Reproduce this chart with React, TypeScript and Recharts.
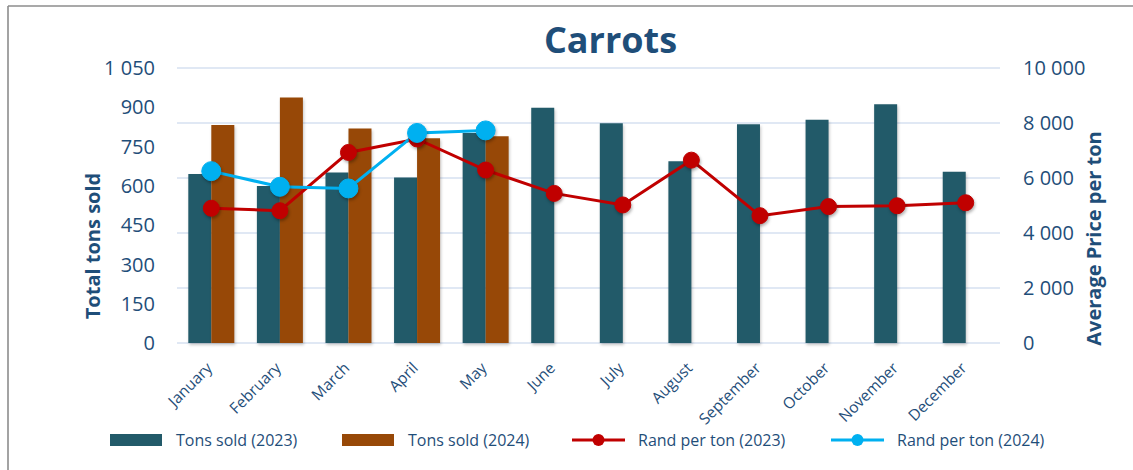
import React from 'react';
import {
  ComposedChart,
  Bar,
  Line,
  XAxis,
  YAxis,
  CartesianGrid,
} from 'recharts';

const months = [
  'January', 'February', 'March', 'April', 'May', 'June',
  'July', 'August', 'September', 'October', 'November', 'December',
];
const tons2023 = [645, 599, 651, 632, 802, 898, 839, 694, 835, 852, 912, 654];
const tons2024: (number | null)[] = [832, 937, 819, 782, 789, null, null, null, null, null, null, null];
const rand2023 = [4900, 4810, 6930, 7420, 6290, 5440, 5020, 6650, 4630, 4960, 4990, 5100];
const rand2024: (number | null)[] = [6250, 5680, 5620, 7640, 7730, null, null, null, null, null, null, null];

const leftTicks = [0, 150, 300, 450, 600, 750, 900, 1050];
const rightTicks = [0, 2000, 4000, 6000, 8000, 10000];

const TITLE = 'Carrots';
const LEFT_TITLE = 'Total tons sold';
const RIGHT_TITLE = 'Average Price per ton';

const C_TEAL = '#225A69';
const C_BROWN = '#974807';
const C_RED = '#C00000';
const C_BLUE = '#00B0F0';
const C_TEXT = '#1F4E79';
const C_GRID = '#D6E0F0';
const FONT = '"Open Sans", "Noto Sans", sans-serif';

const legendItems = [
  { name: 'Tons sold (2023)', color: C_TEAL, kind: 'bar' },
  { name: 'Tons sold (2024)', color: C_BROWN, kind: 'bar' },
  { name: 'Rand per ton (2023)', color: C_RED, kind: 'line' },
  { name: 'Rand per ton (2024)', color: C_BLUE, kind: 'line' },
];
const legendX = [110, 342, 572, 831];

const data = months.map((m, i) => ({
  month: m,
  t2023: tons2023[i],
  t2024: tons2024[i],
  r2023: rand2023[i],
  r2024: rand2024[i],
}));

const fmt = (v: number) => String(v).replace(/\B(?=(\d{3})+(?!\d))/g, ' ');

const MonthTick = (props: any) => {
  const { x, y, payload } = props;
  const tx = x + 2;
  const ty = y + 26;
  return (
    <text
      x={tx}
      y={ty}
      transform={`rotate(-45 ${tx} ${ty})`}
      textAnchor="end"
      fill={C_TEXT}
      fontSize={15.5}
      fontFamily={FONT}
    >
      {payload.value}
    </text>
  );
};

export default function App() {
  return (
    <div style={{ position: 'absolute', left: 0, top: 0, width: 1133, height: 470, background: '#fff' }}>
      <style>{`
        .recharts-bar-rectangle path { filter: drop-shadow(1px 2px 1.5px rgba(0,0,0,0.22)); }
        .recharts-line-dot { filter: drop-shadow(1px 2px 1.5px rgba(0,0,0,0.3)); }
      `}</style>
      <div style={{ position: 'absolute', left: 0, top: 0 }}>
        <ComposedChart
          width={1133}
          height={470}
          data={data}
          margin={{ top: 68, right: 0, bottom: 97, left: 0 }}
          barCategoryGap="16.5%"
          barGap={0}
        >
          <CartesianGrid yAxisId="right" vertical={false} stroke={C_GRID} strokeWidth={1.5} />
          <XAxis
            dataKey="month"
            height={30}
            tickLine={false}
            axisLine={false}
            tickSize={0}
            tickMargin={0}
            interval={0}
            tick={<MonthTick />}
          />
          <YAxis
            yAxisId="left"
            orientation="left"
            width={177}
            domain={[0, 1050]}
            ticks={leftTicks}
            tickFormatter={fmt}
            tickLine={false}
            axisLine={false}
            tickSize={0}
            tickMargin={22}
            tick={{ fill: C_TEXT, fontSize: 20, fontFamily: FONT }}
          />
          <YAxis
            yAxisId="right"
            orientation="right"
            width={133}
            domain={[0, 10000]}
            ticks={rightTicks}
            tickFormatter={fmt}
            tickLine={false}
            axisLine={false}
            tickSize={0}
            tickMargin={23}
            tick={{ fill: C_TEXT, fontSize: 20, fontFamily: FONT, textAnchor: 'start' }}
          />
          <Bar yAxisId="left" dataKey="t2023" name="Tons sold (2023)" fill={C_TEAL} isAnimationActive={false} />
          <Bar yAxisId="left" dataKey="t2024" name="Tons sold (2024)" fill={C_BROWN} isAnimationActive={false} />
          <Line
            yAxisId="right"
            dataKey="r2023"
            name="Rand per ton (2023)"
            stroke={C_RED}
            strokeWidth={3}
            dot={{ r: 8, fill: C_RED, stroke: C_RED, strokeWidth: 1 }}
            activeDot={false}
            isAnimationActive={false}
          />
          <Line
            yAxisId="right"
            dataKey="r2024"
            name="Rand per ton (2024)"
            stroke={C_BLUE}
            strokeWidth={3}
            dot={{ r: 9.5, fill: C_BLUE, stroke: C_BLUE, strokeWidth: 1 }}
            activeDot={false}
            isAnimationActive={false}
          />
        </ComposedChart>
      </div>
      <svg
        width={1133}
        height={470}
        style={{ position: 'absolute', left: 0, top: 0, pointerEvents: 'none' }}
      >
        <line x1={8} y1={6} x2={1133} y2={6} stroke="#8C8C8C" strokeWidth={1.6} />
        <line x1={8} y1={6} x2={8} y2={470} stroke="#8C8C8C" strokeWidth={1.6} />
        <text x={610.5} y={53} textAnchor="middle" fill={C_TEXT} fontSize={36} fontWeight={700} fontFamily={FONT}>
          {TITLE}
        </text>
        <text
          transform="translate(100 246) rotate(-90)"
          textAnchor="middle"
          fill={C_TEXT}
          fontSize={20}
          fontWeight={700}
          fontFamily={FONT}
        >
          {LEFT_TITLE}
        </text>
        <text
          transform="translate(1101 238.5) rotate(-90)"
          textAnchor="middle"
          fill={C_TEXT}
          fontSize={20}
          fontWeight={700}
          fontFamily={FONT}
        >
          {RIGHT_TITLE}
        </text>
        {legendItems.map((it, i) => {
          const x = legendX[i];
          return (
            <g key={it.name}>
              {it.kind === 'bar' ? (
                <rect x={x} y={434} width={52} height={12} fill={it.color} />
              ) : (
                <g>
                  <line x1={x} y1={440} x2={x + 53} y2={440} stroke={it.color} strokeWidth={3} />
                  <circle cx={x + 26.5} cy={440} r={6} fill={it.color} />
                </g>
              )}
              <text x={x + 66} y={446} fill={C_TEXT} fontSize={16} fontFamily={FONT}>
                {it.name}
              </text>
            </g>
          );
        })}
      </svg>
    </div>
  );
}
